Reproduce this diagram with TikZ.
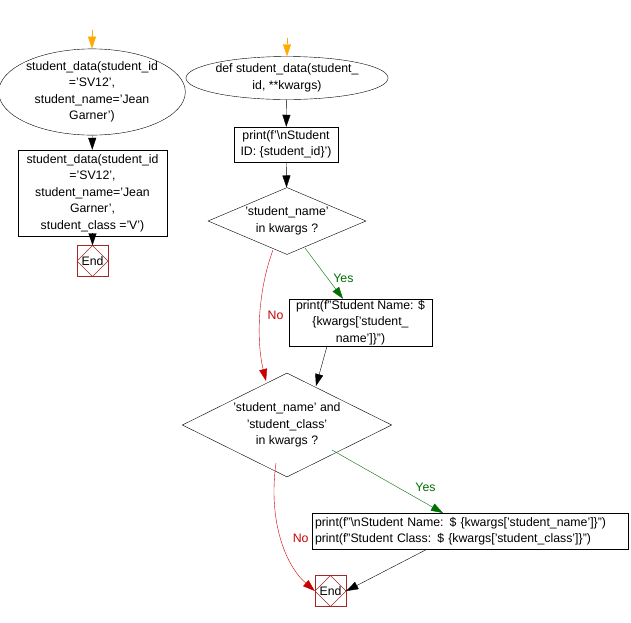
\documentclass[tikz,border=0pt]{standalone}
\usepackage{fontspec}
\setmainfont{Liberation Sans}
\usetikzlibrary{shapes.geometric,arrows.meta}
\definecolor{endc}{RGB}{160,40,40}
\definecolor{yesc}{RGB}{0,110,0}
\definecolor{noc}{RGB}{200,0,0}
\definecolor{startc}{RGB}{255,170,0}
\begin{document}
\begin{tikzpicture}[x=1pt,y=-1pt,
  txt/.style={font=\fontsize{12.3}{16.5}\selectfont,align=center,inner sep=1pt},
  term/.style={txt,ellipse,draw,minimum width=#1,inner sep=0pt},
  proc/.style={txt,draw,rectangle,inner sep=0pt},
  dec/.style={txt,diamond,draw,aspect=2.3,inner sep=0pt},
  fin/.style={draw=endc,minimum width=31pt,minimum height=31pt,inner sep=0pt,
    font=\fontsize{12.3}{14}\selectfont,
    path picture={\draw[endc] (path picture bounding box.north) -- (path picture bounding box.east) -- (path picture bounding box.south) -- (path picture bounding box.west) -- cycle;}},
  arr/.style={-{Triangle[length=12pt,width=8pt]}},
  yes/.style={-{Triangle[length=12pt,width=8pt,fill=yesc]},draw=yesc,text=yesc},
  no/.style={-{Triangle[length=12pt,width=8pt,fill=noc]},draw=noc,text=noc},
  lbl/.style={font=\fontsize{12.3}{14}\selectfont}]
\useasboundingbox (0,0) rectangle (631,622);
% left flow
\coordinate (s1) at (92,30);
\node[term=170pt,minimum height=60pt] (e1) at (92,92) {student\_data(student\_id\\='SV12',\\student\_name='Jean\\Garner')};
\node[proc,minimum width=149pt,minimum height=86pt] (b1) at (92.5,193) {student\_data(student\_id\\='SV12',\\student\_name='Jean\\Garner',\\student\_class ='V')};
\node[fin] (end1) at (92.5,261) {End};
\draw[-{Triangle[length=12pt,width=8pt,fill=startc]},draw=startc] (s1) -- (e1);
\draw[arr] (e1) -- (b1);
\draw[arr] (b1) -- (end1);
% right flow
\coordinate (s2) at (287,38);
\node[term=173pt,minimum height=43pt] (e2) at (287,78) {def student\_data(student\_\\id, **kwargs)};
\node[proc,minimum width=104pt,minimum height=35pt] (b2) at (286,144.5) {print(f'\textbackslash nStudent\\ID: \{student\_id\}')};
\node[dec,minimum width=158pt,minimum height=67pt] (d1) at (287,221) {'student\_name'\\in kwargs ?};
\node[proc,minimum width=143pt,minimum height=47pt] (b3) at (360.5,322.5) {print(f"Student Name: \$\\\{kwargs['student\_\\name']\}")};
\node[dec,minimum width=178pt,minimum height=104pt] (d2) at (287,425) {'student\_name' and\\'student\_class'\\in kwargs ?};
\node[proc,minimum width=316pt,minimum height=36pt,text width=310pt,align=left] (b4) at (470,531) {print(f"\textbackslash nStudent Name: \$ \{kwargs['student\_name']\}")\\print(f"Student Class: \$ \{kwargs['student\_class']\}")};
\node[fin] (end2) at (330.5,591) {End};
\draw[-{Triangle[length=12pt,width=8pt,fill=startc]},draw=startc] (s2) -- (e2);
\draw[arr] (e2) -- (b2);
\draw[arr] (b2) -- (d1);
\coordinate (y1) at (305,248);
\draw[yes] (y1) -- node[lbl,right,pos=0.6,xshift=2pt] {Yes} (b3.north -| 343,0);
\coordinate (n1a) at (273,250);
\coordinate (n1b) at (266,381);
\draw[no] (n1a) .. controls (258,290) and (256,340) .. node[lbl,right,pos=0.5,xshift=4pt] {No} (n1b);
\draw[arr] (b3.south -| 327,0) -- (316,386);
\coordinate (y2) at (332,450);
\draw[yes] (y2) -- node[lbl,above right,pos=0.72] {Yes} (443,513);
\coordinate (n2a) at (276,463);
\draw[no] (n2a) .. controls (268,520) and (285,565) .. node[lbl,right,pos=0.5,xshift=8pt] {No} (end2.west);
\draw[arr] (b4.south -| 427,0) -- (end2.east);
\end{tikzpicture}
\end{document}
